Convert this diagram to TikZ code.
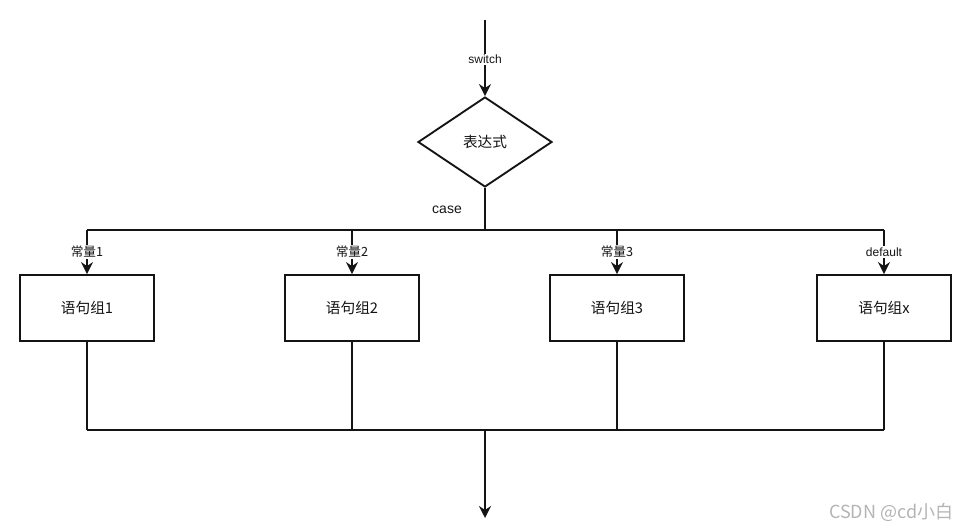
\documentclass[tikz,border=0pt]{standalone}
\usepackage{fontspec}
\setmainfont{Liberation Sans}
\newfontfamily\cjk{Noto Sans CJK SC}
\usetikzlibrary{shapes.geometric,arrows.meta,positioning,calc}
\definecolor{lineblack}{RGB}{20,20,20}
\definecolor{markgray}{RGB}{180,180,180}

\begin{document}
\begin{tikzpicture}[
    x=0.75pt, y=-0.75pt,
    every node/.style={font=\fontsize{11}{13}\selectfont\cjk, text=lineblack},
    blk/.style={rectangle, draw=lineblack, line width=1.4pt, fill=white, minimum width=100pt, minimum height=49.5pt, inner sep=0pt},
    dec/.style={diamond, draw=lineblack, line width=1.4pt, fill=white, minimum width=100.5pt, minimum height=67.5pt, inner sep=0pt},
    wire/.style={draw=lineblack, line width=1.4pt},
    arr/.style={wire, -{Stealth[length=9pt, width=9pt, inset=3pt]}},
    lbl/.style={font=\fontsize{9.5}{11}\selectfont\cjk, fill=white, inner sep=1pt},
    casel/.style={font=\fontsize{10.5}{12}\selectfont},
    wmark/.style={font=\fontsize{13.5}{15}\selectfont\cjk, text=markgray},
]

\useasboundingbox (0,0) rectangle (963,530);

% ── Entry and expression ──
\coordinate (start) at (485,20);
\node[dec] (expr) at (485,142) {表达式};
\coordinate (split) at (485,230);
\draw[arr] (start) -- node[lbl, font=\fontsize{9}{11}\selectfont, pos=0.52] {switch} (expr.north);
\draw[wire] (expr.south) -- (split);
\node[casel, anchor=center] (caselbl) at (447,210) {case};

% ── Statement blocks ──
\node[blk] (b1) at (87,308) {语句组1};
\node[blk] (b2) at (352,308) {语句组2};
\node[blk] (b3) at (617,308) {语句组3};
\node[blk] (b4) at (884,308) {语句组x};

% ── Upper bus ──
\coordinate (t1) at (87,230);
\coordinate (t2) at (352,230);
\coordinate (t3) at (617,230);
\coordinate (t4) at (884,230);
\draw[wire] (t1) -- (t4);
\draw[arr] (t1) -- node[lbl] {常量1} (b1.north);
\draw[arr] (t2) -- node[lbl] {常量2} (b2.north);
\draw[arr] (t3) -- node[lbl] {常量3} (b3.north);
\draw[arr] (t4) -- node[lbl, font=\fontsize{9}{11}\selectfont] {default} (b4.north);

% ── Lower bus and exit ──
\coordinate (m1) at (87,430);
\coordinate (m2) at (352,430);
\coordinate (m3) at (617,430);
\coordinate (m4) at (884,430);
\coordinate (join) at (485,430);
\coordinate (exit) at (485,518);
\draw[wire] (b1.south) -- (m1);
\draw[wire] (b2.south) -- (m2);
\draw[wire] (b3.south) -- (m3);
\draw[wire] (b4.south) -- (m4);
\draw[wire] (m1) -- (m4);
\draw[arr] (join) -- (exit);

% watermark
\node[wmark, anchor=east] (wm) at (958,512) {CSDN @cd小白};

\end{tikzpicture}
\end{document}
